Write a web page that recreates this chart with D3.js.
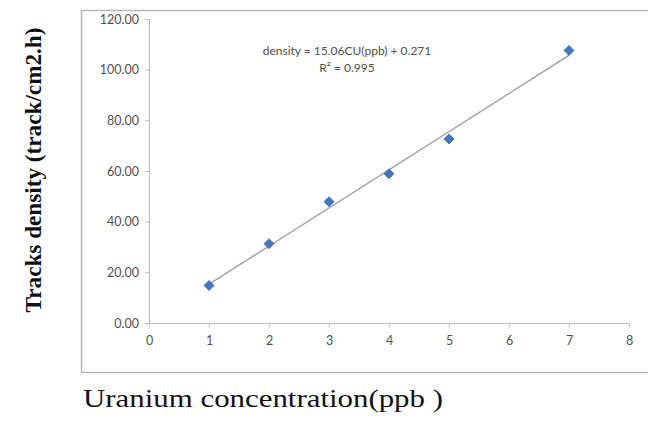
<!DOCTYPE html>
<html>
<head>
<meta charset="utf-8">
<script src="https://cdn.jsdelivr.net/npm/d3@7"></script>
<style>
  body { margin: 0; background: #fff; }
  svg { display: block; }
</style>
</head>
<body>
<div id="chart"></div>
<script>
// measured points, uranium concentration (ppb) vs track density
const concentration = [1, 2, 3, 4, 5, 7];
const trackDensity = [14.8, 31.3, 47.9, 58.9, 72.6, 107.6];

// linear fit shown on the chart
const slope = 15.06;
const intercept = 0.271;
const equationLines = ["density = 15.06CU(ppb) + 0.271", "R\u00B2 = 0.995"];

const xTicks = [0, 1, 2, 3, 4, 5, 6, 7, 8];
const yTicks = [0, 20, 40, 60, 80, 100, 120];

const W = 648, H = 423;
const svg = d3.select("#chart").append("svg")
    .attr("width", W)
    .attr("height", H);

// outer chart-area frame (runs off the right edge like the source)
svg.append("rect")
    .attr("x", 81.5).attr("y", 10.5)
    .attr("width", 600).attr("height", 362)
    .attr("fill", "none")
    .attr("stroke", "#b8b8b8")
    .attr("stroke-width", 1.5);

const x = d3.scaleLinear().domain([0, 8]).range([149, 629]);
const y = d3.scaleLinear().domain([0, 120]).range([323, 19]);

const axisColor = "#bfbfbf";
const labelColor = "#505050";
const font = "Lato, 'Open Sans', sans-serif";

// y axis
const gy = svg.append("g")
    .attr("transform", `translate(${x(0)},0)`)
    .call(d3.axisLeft(y).tickValues(yTicks).tickSize(4).tickPadding(6)
        .tickFormat(d3.format(".2f")));
// x axis
const gx = svg.append("g")
    .attr("transform", `translate(0,${y(0)})`)
    .call(d3.axisBottom(x).tickValues(xTicks).tickSize(4).tickPadding(9)
        .tickFormat(d3.format("d")));

[gx, gy].forEach(g => {
    g.select(".domain").attr("stroke", axisColor).attr("stroke-width", 1.2);
    g.selectAll(".tick line").attr("stroke", axisColor);
    g.selectAll(".tick text")
        .attr("fill", labelColor)
        .style("font-family", font)
        .style("font-size", "12.5px");
});

// trend line from first to last point
const fit = d3.extent(concentration).map(c => [c, slope * c + intercept]);
svg.append("path")
    .datum(fit)
    .attr("d", d3.line().x(d => x(d[0])).y(d => y(d[1])))
    .attr("fill", "none")
    .attr("stroke", "#a6a6a6")
    .attr("stroke-width", 1.5);

// diamond markers
const diamond = d3.symbol().type(d3.symbolDiamond2).size(64);
svg.append("g")
    .selectAll("path")
    .data(concentration.map((c, i) => [c, trackDensity[i]]))
    .join("path")
    .attr("d", diamond)
    .attr("transform", d => `translate(${x(d[0])},${y(d[1])})`)
    .attr("fill", "#4677be")
    .attr("stroke", "#3a6aae")
    .attr("stroke-width", 0.8);

// equation label
svg.append("text")
    .attr("x", 347).attr("y", 55)
    .attr("text-anchor", "middle")
    .attr("fill", labelColor)
    .style("font-family", font)
    .style("font-size", "12px")
    .selectAll("tspan")
    .data(equationLines)
    .join("tspan")
    .attr("x", 347)
    .attr("dy", (d, i) => i === 0 ? 0 : 17)
    .text(d => d);

// axis titles
svg.append("text")
    .attr("transform", "translate(41,170) rotate(-90)")
    .attr("text-anchor", "middle")
    .attr("fill", "#111")
    .attr("textLength", 285)
    .attr("lengthAdjust", "spacingAndGlyphs")
    .style("font-family", "'Liberation Serif', 'Times New Roman', serif")
    .style("font-weight", "bold")
    .style("font-size", "23px")
    .text("Tracks density (track/cm2.h)");

svg.append("text")
    .attr("x", 83).attr("y", 407)
    .attr("fill", "#111")
    .attr("textLength", 360)
    .attr("lengthAdjust", "spacingAndGlyphs")
    .style("font-family", "'Liberation Serif', 'Times New Roman', serif")
    .style("font-size", "25px")
    .text("Uranium concentration(ppb )");
</script>
</body>
</html>
